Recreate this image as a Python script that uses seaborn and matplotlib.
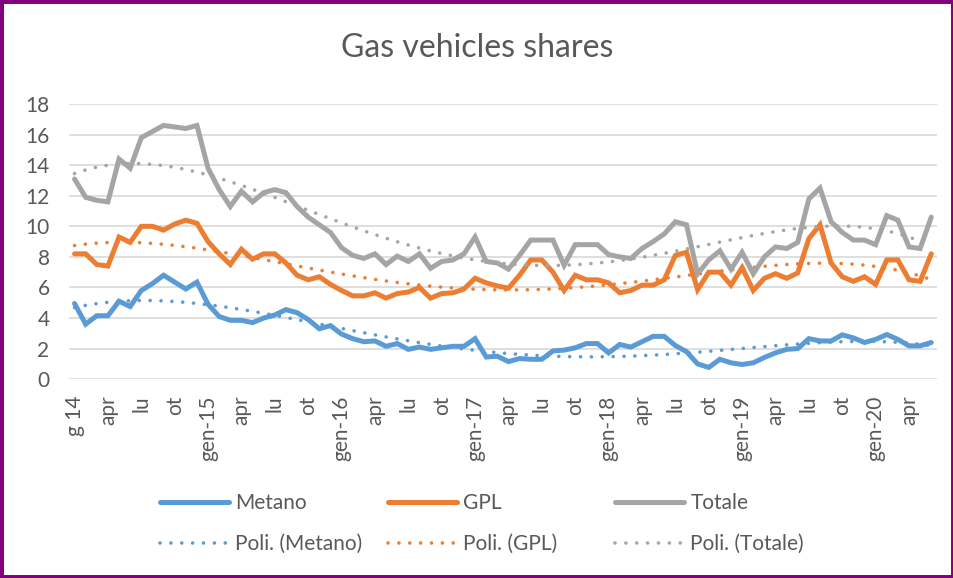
import numpy as np
import pandas as pd
import matplotlib
matplotlib.use("Agg")
import matplotlib.pyplot as plt
import seaborn as sns
from matplotlib.patches import Rectangle

# Data (monthly shares, gen-2014 .. giu-2020)
metano = [4.95, 3.6, 4.15, 4.15, 5.1, 4.75, 5.8, 6.25, 6.8, 6.35, 5.9, 6.35,
          4.9, 4.1, 3.85, 3.85, 3.7, 4.0, 4.2, 4.55, 4.35, 3.9, 3.3, 3.5,
          2.95, 2.65, 2.45, 2.5, 2.15, 2.33, 1.95, 2.1, 1.95, 2.05, 2.15, 2.15,
          2.65, 1.45, 1.5, 1.15, 1.35, 1.3, 1.3, 1.85, 1.9, 2.05, 2.33, 2.33,
          1.72, 2.27, 2.1, 2.45, 2.8, 2.8, 2.2, 1.8, 1.0, 0.77, 1.3, 1.07,
          0.96, 1.07, 1.42, 1.72, 1.95, 2.0, 2.65, 2.5, 2.5, 2.9, 2.7, 2.4,
          2.6, 2.92, 2.6, 2.18, 2.18, 2.4]
gpl = [8.2, 8.2, 7.5, 7.4, 9.3, 8.95, 10.0, 10.0, 9.75, 10.15, 10.4, 10.2,
       9.0, 8.2, 7.5, 8.5, 7.85, 8.2, 8.2, 7.6, 6.8, 6.5, 6.7, 6.2,
       5.8, 5.45, 5.45, 5.65, 5.3, 5.6, 5.7, 6.0, 5.3, 5.6, 5.65, 5.9,
       6.6, 6.3, 6.1, 5.95, 6.8, 7.8, 7.8, 7.0, 5.8, 6.8, 6.5, 6.5,
       6.3, 5.65, 5.8, 6.15, 6.15, 6.5, 8.1, 8.3, 5.85, 7.0, 7.0, 6.15,
       7.3, 5.8, 6.6, 6.9, 6.6, 6.95, 9.2, 10.1, 7.6, 6.7, 6.4, 6.7,
       6.2, 7.8, 7.8, 6.5, 6.4, 8.2]
totale = [13.1, 11.9, 11.7, 11.6, 14.4, 13.8, 15.8, 16.2, 16.6, 16.5, 16.4, 16.6,
          13.8, 12.4, 11.3, 12.3, 11.6, 12.2, 12.4, 12.2, 11.3, 10.6, 10.1, 9.6,
          8.6, 8.1, 7.9, 8.2, 7.5, 8.05, 7.7, 8.2, 7.25, 7.7, 7.8, 8.2,
          9.3, 7.7, 7.6, 7.2, 8.1, 9.1, 9.1, 9.1, 7.45, 8.8, 8.8, 8.8,
          8.15, 8.0, 7.9, 8.55, 9.0, 9.5, 10.3, 10.1, 6.9, 7.8, 8.4, 7.2,
          8.3, 6.9, 8.0, 8.65, 8.55, 8.95, 11.8, 12.5, 10.3, 9.6, 9.1, 9.1,
          8.8, 10.7, 10.4, 8.65, 8.55, 10.6]
tick_labels = ["g 14", "apr", "lu", "ot"]
for yr in range(15, 21):
    tick_labels += [f"gen-{yr}", "apr", "lu", "ot"]
tick_labels = tick_labels[:26]

series = [("Metano", metano, "#5B9BD5"),
          ("GPL", gpl, "#ED7D31"),
          ("Totale", totale, "#A5A5A5")]

n = len(metano)
x = np.arange(n)
rows = []
for name, vals, _ in series:
    # Excel-like polynomial trendline
    trend = np.polynomial.Polynomial.fit(x + 1, vals, 4)(x + 1)
    for i in range(n):
        rows.append({"m": i, "serie": name, "val": vals[i], "trend": trend[i]})
df = pd.DataFrame(rows)

sns.set_theme(style="white")
plt.rcParams["font.family"] = ["Lato", "DejaVu Sans"]
txt = "#595959"

fig = plt.figure(figsize=(9.54, 5.78), dpi=100)
ax = fig.add_axes([0.0723, 0.344, 0.9097, 0.476])

for name, vals, col in series:
    d = df[df["serie"] == name]
    sns.lineplot(data=d, x="m", y="val", ax=ax, color=col, lw=3.6,
                 solid_joinstyle="miter", label=name)
    sns.lineplot(data=d, x="m", y="trend", ax=ax, color=col, lw=2.6,
                 linestyle=(0, (0.01, 3.0)), dash_capstyle="round",
                 label=f"Poli. ({name})")

ax.set_xlim(-0.5, n - 0.5)
ax.set_ylim(0, 18)
ax.set_yticks(range(0, 19, 2))
ax.set_xticks(range(0, 76, 3))
ax.set_xticklabels(tick_labels, rotation=90, va="top", ha="center")
ax.set_xlabel("")
ax.set_ylabel("")
ax.grid(axis="y", color="#D9D9D9", lw=1.2)
ax.set_axisbelow(True)
for s in ax.spines.values():
    s.set_visible(False)
ax.tick_params(axis="y", length=0, pad=14, labelsize=15, labelcolor=txt)
ax.tick_params(axis="x", length=0, pad=12, labelsize=15, labelcolor=txt)

h, l = ax.get_legend_handles_labels()
ax.get_legend().remove()
# one legend column per series, evenly spaced like Excel
for k, xpos in enumerate([0.168, 0.407, 0.645]):
    leg = fig.legend(h[2 * k:2 * k + 2], l[2 * k:2 * k + 2], loc="center left",
                     bbox_to_anchor=(xpos, 0.094), frameon=False,
                     fontsize=15, labelcolor=txt, handlelength=3.3,
                     handletextpad=0.3, labelspacing=1.0, borderpad=0,
                     borderaxespad=0)

fig.text(0.5, 0.917, "Gas vehicles shares", ha="center", va="center",
         fontsize=23, color=txt)

fig.patches.append(Rectangle((0, 0), 1, 1, transform=fig.transFigure,
                             fill=False, edgecolor="#800080", lw=5))

fig.savefig("out.png", dpi=100)
